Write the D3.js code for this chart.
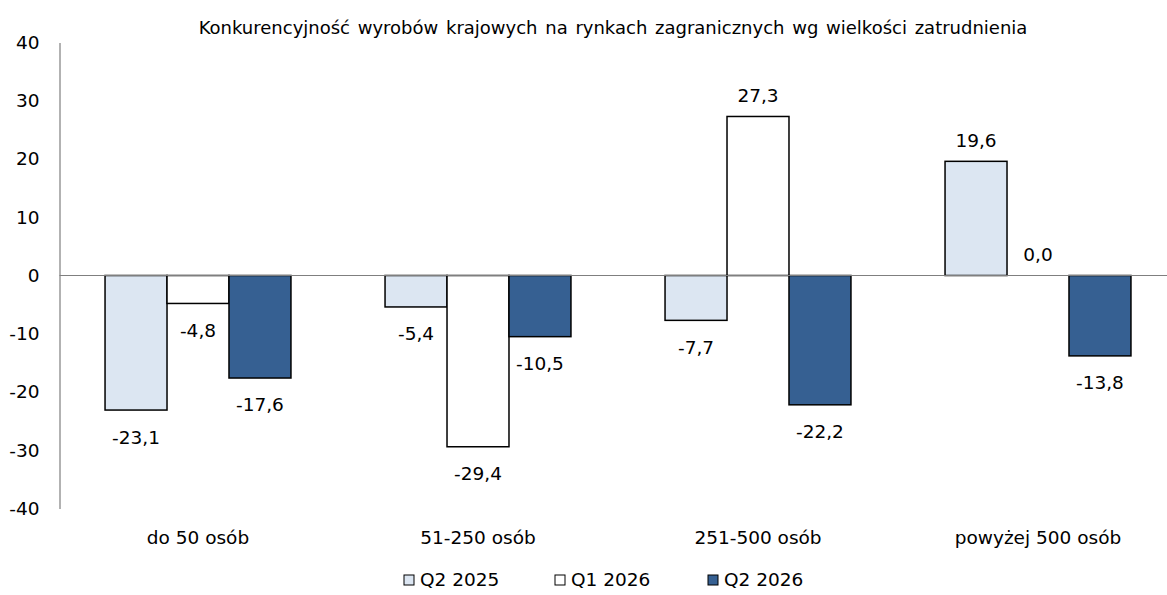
<!DOCTYPE html>
<html>
<head>
<meta charset="utf-8">
<script src="https://cdn.jsdelivr.net/npm/d3@7"></script>
<style>
  html, body { margin: 0; padding: 0; background: #fff; }
  svg { display: block; font-family: "DejaVu Sans", Verdana, sans-serif; }
</style>
</head>
<body>
<svg id="chart" width="1167" height="595"></svg>
<script>
// Chart data
const title = "Konkurencyjność wyrobów krajowych na rynkach zagranicznych wg wielkości zatrudnienia";
const categories = ["do 50 osób", "51-250 osób", "251-500 osób", "powyżej 500 osób"];
const seriesNames = ["Q2 2025", "Q1 2026", "Q2 2026"];
const q2_2025 = [-23.1, -5.4, -7.7, 19.6];
const q1_2026 = [-4.8, -29.4, 27.3, 0.0];
const q2_2026 = [-17.6, -10.5, -22.2, -13.8];
const yTicks = [40, 30, 20, 10, 0, -10, -20, -30, -40];
const seriesColors = ["#dce6f2", "#ffffff", "#366092"];

const seriesValues = [q2_2025, q1_2026, q2_2026];
const rows = categories.map((c, i) => ({
  category: c,
  values: seriesNames.map((s, j) => ({ series: s, value: seriesValues[j][i], idx: j }))
}));

const svg = d3.select("#chart");
const fontSize = 18.5;

const x0 = d3.scaleBand()
  .domain(categories)
  .range([58, 1178])
  .paddingInner(0.336)
  .paddingOuter(0.168);

const x1 = d3.scaleBand()
  .domain(seriesNames)
  .range([0, x0.bandwidth()]);

const y = d3.scaleLinear().domain([-40, 40]).range([508.5, 42.5]);

// Title
svg.append("text")
  .attr("x", 613)
  .attr("y", 34)
  .attr("text-anchor", "middle")
  .attr("font-size", 18)
  .attr("word-spacing", 2)
  .attr("fill", "#000")
  .text(title);

// Y axis (plain hyphen for negative numbers)
const yAxis = d3.axisLeft(y).tickValues(yTicks).tickSize(0).tickPadding(20)
  .tickFormat(d => String(d));
const gy = svg.append("g").attr("transform", "translate(59.5,0)").call(yAxis);
gy.select(".domain").attr("stroke", "#7f7f7f").attr("stroke-width", 1.2);
gy.selectAll("text").attr("font-size", fontSize).attr("font-family", "DejaVu Sans").attr("fill", "#000");

// Bars
const groups = svg.append("g").selectAll("g")
  .data(rows)
  .join("g")
  .attr("transform", d => `translate(${x0(d.category)},0)`);

groups.selectAll("rect")
  .data(d => d.values)
  .join("rect")
  .attr("x", d => x1(d.series))
  .attr("width", x1.bandwidth())
  .attr("y", d => y(Math.max(0, d.value)))
  .attr("height", d => Math.abs(y(d.value) - y(0)))
  .attr("fill", d => seriesColors[d.idx])
  .attr("stroke", "#000")
  .attr("stroke-width", 1.5);

// Zero line
svg.append("line")
  .attr("x1", 59.5).attr("x2", 1178)
  .attr("y1", y(0)).attr("y2", y(0))
  .attr("stroke", "#7f7f7f").attr("stroke-width", 1.2);

// Value labels
const fmt = v => v.toFixed(1).replace(".", ",");
groups.selectAll("text.val")
  .data(d => d.values)
  .join("text")
  .attr("class", "val")
  .attr("x", d => x1(d.series) + x1.bandwidth() / 2)
  .attr("y", d => d.value >= 0 ? y(d.value) - 21 : y(d.value) + 27)
  .attr("dy", "0.35em")
  .attr("text-anchor", "middle")
  .attr("font-size", fontSize)
  .attr("fill", "#000")
  .text(d => fmt(d.value));

// Category labels
svg.append("g").selectAll("text")
  .data(categories)
  .join("text")
  .attr("x", d => x0(d) + x0.bandwidth() / 2)
  .attr("y", 538)
  .attr("dy", "0.35em")
  .attr("text-anchor", "middle")
  .attr("font-size", fontSize)
  .attr("fill", "#000")
  .text(d => d);

// Legend
const legendX = [404, 555, 708];
const legend = svg.append("g").selectAll("g")
  .data(seriesNames)
  .join("g")
  .attr("transform", (d, i) => `translate(${legendX[i]},580)`);
legend.append("rect")
  .attr("x", 0).attr("y", -5).attr("width", 10).attr("height", 10)
  .attr("fill", (d, i) => seriesColors[i])
  .attr("stroke", "#000").attr("stroke-width", 1);
legend.append("text")
  .attr("x", 16).attr("y", 0).attr("dy", "0.35em")
  .attr("font-size", fontSize)
  .attr("fill", "#000")
  .text(d => d);
</script>
</body>
</html>
